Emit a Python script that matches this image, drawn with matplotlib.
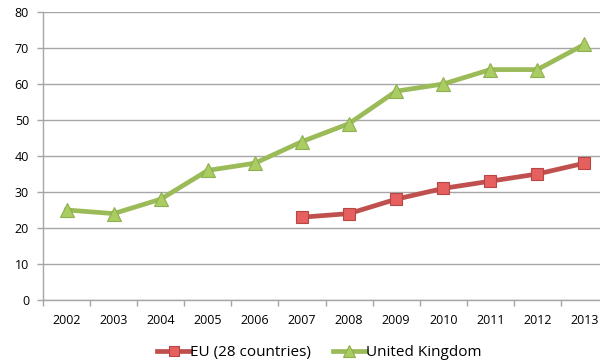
import matplotlib
matplotlib.use("Agg")
import matplotlib.pyplot as plt
import numpy as np

years = ["2002", "2003", "2004", "2005", "2006", "2007", "2008",
         "2009", "2010", "2011", "2012", "2013"]
uk_values = [25, 24, 28, 36, 38, 44, 49, 58, 60, 64, 64, 71]
eu_years = ["2007", "2008", "2009", "2010", "2011", "2012", "2013"]
eu_values = [23, 24, 28, 31, 33, 35, 38]

plt.rcParams["font.family"] = ["Open Sans", "DejaVu Sans"]

fig = plt.figure(figsize=(6.0, 3.62), dpi=100)
ax = fig.add_axes([43 / 600, 1 - 300 / 362, 565 / 600, 288 / 362])

x_uk = np.arange(len(years))
x_eu = np.array([years.index(y) for y in eu_years])

eu_line, = ax.plot(x_eu, eu_values, color="#C0504D", lw=3.4,
                   marker="s", ms=9, mfc="#E5605E", mec="#B84644", mew=0.8,
                   solid_joinstyle="round", label="EU (28 countries)", zorder=3)
uk_line, = ax.plot(x_uk, uk_values, color="#9BBB59", lw=3.4,
                   marker="^", ms=10, mfc="#A9CD62", mec="#8EAF4E", mew=0.8,
                   solid_joinstyle="round", label="United Kingdom", zorder=3)

ax.set_xlim(-0.5, len(years) - 0.5)
ax.set_ylim(0, 80)
ax.set_yticks(np.arange(0, 81, 10))
ax.set_xticks(x_uk)
ax.set_xticklabels(years)
ax.set_xticks(np.arange(-0.5, len(years), 1.0), minor=True)

ax.grid(axis="y", color="#A6A6A6", lw=1.0)
ax.set_axisbelow(True)
for side in ("top", "right"):
    ax.spines[side].set_visible(False)
for side in ("left", "bottom"):
    ax.spines[side].set_color("#A6A6A6")
    ax.spines[side].set_linewidth(1.0)

ax.tick_params(axis="x", which="major", length=0, pad=10, labelsize=9, colors="black")
ax.tick_params(axis="x", which="minor", length=4, color="#A6A6A6", width=1.0)
ax.tick_params(axis="y", length=4, color="#A6A6A6", width=1.0, pad=6, labelsize=9)

fig.legend(handles=[eu_line, uk_line], loc="center", ncol=2,
           bbox_to_anchor=(0.532, 0.026), frameon=False, fontsize=11,
           handlelength=2.15, handletextpad=0.0, columnspacing=1.45,
           markerscale=0.8)

fig.savefig("out.png", dpi=100)
